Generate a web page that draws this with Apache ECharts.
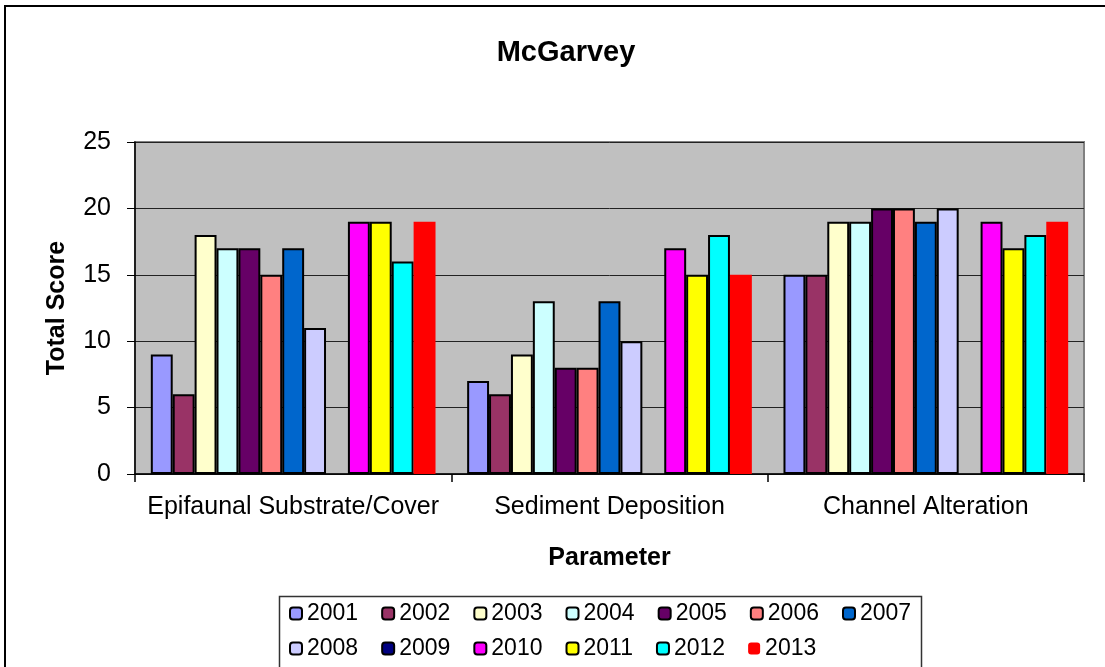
<!DOCTYPE html>
<html>
<head>
<meta charset="utf-8">
<script src="https://cdn.jsdelivr.net/npm/echarts@6/dist/echarts.min.js"></script>
<style>
  html, body { margin: 0; padding: 0; background: #fff; }
  #chart { width: 1105px; height: 667px; }
</style>
</head>
<body>
<div id="chart"></div>
<script>
var categories = ['Epifaunal Substrate/Cover', 'Sediment Deposition', 'Channel Alteration'];
var years = ['2001', '2002', '2003', '2004', '2005', '2006', '2007', '2008', '2009', '2010', '2011', '2012', '2013'];

// one value per year, 2009 has no score
var epifaunal = [9, 6, 18, 17, 17, 15, 17, 11, null, 19, 19, 16, 19];
var sediment  = [7, 6, 9, 13, 8, 8, 13, 10, null, 17, 15, 18, 15];
var channel   = [15, 15, 19, 19, 20, 20, 19, 20, null, 19, 17, 18, 19];

var colors = ['#9999FF', '#993366', '#FFFFCC', '#CCFFFF', '#660066', '#FF8080', '#0066CC',
              '#CCCCFF', '#000080', '#FF00FF', '#FFFF00', '#00FFFF', '#FF0000'];

var font = "'Liberation Sans', Arial, sans-serif";

var series = [];
for (var i = 0; i < years.length; i++) {
    var last = (years[i] == '2013');
    series.push({
        name: years[i],
        type: 'bar',
        barGap: '0%',
        barCategoryGap: '10%',
        itemStyle: {
            color: colors[i],
            borderColor: last ? colors[i] : '#000',
            borderWidth: last ? 0 : 2
        },
        data: [epifaunal[i], sediment[i], channel[i]]
    });
}

var legendText = { fontFamily: font, fontSize: 23, color: '#000', lineHeight: 23 };

var chart = echarts.init(document.getElementById('chart'));

var option = {
    animation: false,
    backgroundColor: '#fff',
    title: {
        text: 'McGarvey',
        left: 561,
        textAlign: 'center',
        top: 33,
        textStyle: { fontFamily: font, fontSize: 29, fontWeight: 'bold', color: '#000' }
    },
    graphic: [
        {
            type: 'rect',
            shape: { x: 5, y: 6, width: 1300, height: 900 },
            style: { fill: 'none', stroke: '#000', lineWidth: 2 },
            silent: true
        },
        {
            type: 'rect',
            shape: { x: 279.5, y: 596.5, width: 642, height: 120 },
            style: { fill: 'none', stroke: '#333', lineWidth: 1.5 },
            silent: true
        }
    ],
    legend: [
        {
            data: years.slice(0, 7),
            left: 289,
            top: 602,
            padding: 0,
            itemWidth: 12,
            itemHeight: 12,
            itemGap: 23,
            textStyle: legendText
        },
        {
            data: years.slice(7),
            left: 289,
            top: 637,
            padding: 0,
            itemWidth: 12,
            itemHeight: 12,
            itemGap: 23,
            textStyle: legendText
        }
    ],
    grid: {
        left: 135,
        top: 142,
        right: 21,
        bottom: 193,
        show: true,
        backgroundColor: '#C0C0C0',
        borderColor: '#808080',
        borderWidth: 2
    },
    xAxis: {
        type: 'category',
        data: categories,
        name: 'Parameter',
        nameLocation: 'middle',
        nameGap: 72,
        nameTextStyle: { fontFamily: font, fontSize: 25, fontWeight: 'bold', color: '#000' },
        axisLine: { lineStyle: { color: '#000', width: 1.5 } },
        axisTick: { show: true, length: 8, lineStyle: { color: '#000', width: 1.5 } },
        axisLabel: { interval: 0, margin: 21, fontFamily: font, fontSize: 25, color: '#000' }
    },
    yAxis: {
        type: 'value',
        min: 0,
        max: 25,
        interval: 5,
        name: 'Total Score',
        nameLocation: 'middle',
        nameGap: 65,
        nameTextStyle: { fontFamily: font, fontSize: 25, fontWeight: 'bold', color: '#000' },
        axisLine: { show: true, lineStyle: { color: '#000', width: 1.5 } },
        axisTick: { show: true, length: 8, lineStyle: { color: '#000' } },
        axisLabel: { margin: 24, fontFamily: font, fontSize: 25, color: '#000' },
        splitLine: { lineStyle: { color: '#222', width: 1 } }
    },
    series: series
};

chart.setOption(option);
</script>
</body>
</html>
